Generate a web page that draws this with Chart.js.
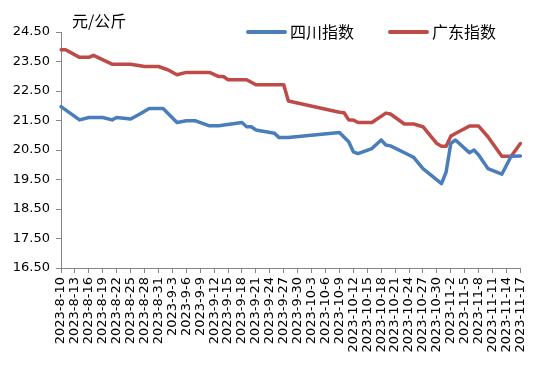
<!DOCTYPE html>
<html>
<head>
<meta charset="utf-8">
<script src="https://cdn.jsdelivr.net/npm/chart.js@4"></script>
<style>
  html, body { margin: 0; padding: 0; background: #fff; }
  #wrap { width: 540px; height: 366px; }
</style>
</head>
<body>
<div id="wrap"><canvas id="chart" width="540" height="366"></canvas></div>
<script>
// dates 2023-8-10 .. 2023-11-17, one per day
const dates = [];
const start = new Date(2023, 7, 10);
for (let i = 0; i < 100; i++) {
  const d = new Date(start.getFullYear(), start.getMonth(), start.getDate() + i);
  dates.push(d.getFullYear() + '-' + (d.getMonth() + 1) + '-' + d.getDate());
}

// 四川指数 - day index (0 = 2023-8-10) and value
const sichuanDays = [0, 4, 6, 9, 11, 12, 15, 17, 19, 22, 25, 27, 29, 32, 34, 39, 40, 41, 42, 46, 47, 49,
  60, 62, 63, 64, 67, 69, 70, 71, 75, 76, 78, 82, 83, 84, 85, 88, 89, 90, 92, 95, 97, 99];
const sichuanVals = [21.97, 21.52, 21.60, 21.60, 21.52, 21.60, 21.55, 21.72, 21.91, 21.91, 21.43, 21.49, 21.49,
  21.32, 21.32, 21.43, 21.29, 21.29, 21.18, 21.07, 20.92, 20.92,
  21.09, 20.78, 20.44, 20.38, 20.55, 20.84, 20.67, 20.64, 20.33, 20.25, 19.87, 19.36, 19.76, 20.72, 20.84,
  20.41, 20.50, 20.33, 19.87, 19.68, 20.29, 20.30];

// 广东指数
const guangdongDays = [0, 1, 4, 6, 7, 11, 15, 18, 21, 23, 25, 27, 32, 34, 35, 36, 40, 42, 48, 49,
  60, 61, 62, 63, 64, 67, 70, 71, 74, 76, 78, 81, 82, 83, 84, 85, 88, 90, 92, 95, 97, 99];
const guangdongVals = [23.90, 23.90, 23.64, 23.64, 23.71, 23.41, 23.41, 23.33, 23.33, 23.22, 23.05, 23.13,
  23.13, 22.99, 22.99, 22.88, 22.88, 22.71, 22.71, 22.16,
  21.78, 21.76, 21.52, 21.52, 21.43, 21.43, 21.75, 21.72, 21.38, 21.38, 21.29, 20.72, 20.63, 20.63,
  20.97, 21.06, 21.31, 21.31, 20.95, 20.29, 20.29, 20.72];

const yTicks = [16.5, 17.5, 18.5, 19.5, 20.5, 21.5, 22.5, 23.5, 24.5];

// 把稀疏的点放到每日数组里，没有数据的日子为 null
function toDaily(days, vals) {
  const arr = new Array(dates.length).fill(null);
  days.forEach((d, i) => { arr[d] = vals[i]; });
  return arr;
}

const axisColor = '#868686';
const cjk = '"Noto Sans CJK SC", sans-serif';

// 单位和图例直接画在图上
const overlay = {
  id: 'overlay',
  afterDraw(chart) {
    const c = chart.ctx;
    c.save();
    c.fillStyle = '#000';
    c.font = '16px ' + cjk;
    c.textBaseline = 'middle';
    c.textAlign = 'left';
    c.fillText('元/公斤', 72, 21);

    const items = [[248, 290], [390, 432]];
    chart.data.datasets.forEach((ds, i) => {
      const [lx, tx] = items[i];
      c.strokeStyle = ds.borderColor;
      c.lineWidth = 4;
      c.lineCap = 'round';
      c.beginPath();
      c.moveTo(lx, 32);
      c.lineTo(lx + 37, 32);
      c.stroke();
      c.fillText(ds.label, tx, 32);
    });
    c.restore();
  }
};

new Chart(document.getElementById('chart'), {
  type: 'line',
  data: {
    labels: dates,
    datasets: [{
      label: '四川指数',
      data: toDaily(sichuanDays, sichuanVals),
      borderColor: '#4A7EBB',
      borderWidth: 3.5,
      borderJoinStyle: 'round',
      borderCapStyle: 'round',
      pointRadius: 0,
      tension: 0,
      spanGaps: true
    }, {
      label: '广东指数',
      data: toDaily(guangdongDays, guangdongVals),
      borderColor: '#BE4B48',
      borderWidth: 3.5,
      borderJoinStyle: 'round',
      borderCapStyle: 'round',
      pointRadius: 0,
      tension: 0,
      spanGaps: true
    }]
  },
  options: {
    responsive: false,
    animation: false,
    layout: { padding: { top: 32, right: 13, left: 0, bottom: 0 } },
    plugins: {
      legend: { display: false },
      tooltip: { enabled: false }
    },
    scales: {
      x: {
        offset: false,
        afterBuildTicks: (scale) => {
          scale.ticks = scale.ticks.filter(t => t.value % 3 === 0);
        },
        afterFit: (scale) => { scale.height = 98; },
        grid: { drawOnChartArea: false, color: axisColor, tickLength: 5 },
        border: { color: axisColor, width: 1 },
        ticks: {
          autoSkip: false,
          minRotation: 90,
          maxRotation: 90,
          padding: 4,
          color: '#000',
          font: { family: '"DejaVu Sans"', size: 13 }
        }
      },
      y: {
        min: 16.5,
        max: 24.5,
        afterBuildTicks: (scale) => {
          scale.ticks = yTicks.map(v => ({ value: v }));
        },
        afterFit: (scale) => { scale.width = 61; },
        grid: { drawOnChartArea: false, color: axisColor, tickLength: 5 },
        border: { color: axisColor, width: 1 },
        ticks: {
          padding: 6,
          color: '#000',
          font: { family: '"DejaVu Sans"', size: 13 },
          callback: v => Number(v).toFixed(2)
        }
      }
    }
  },
  plugins: [overlay]
});
</script>
</body>
</html>
